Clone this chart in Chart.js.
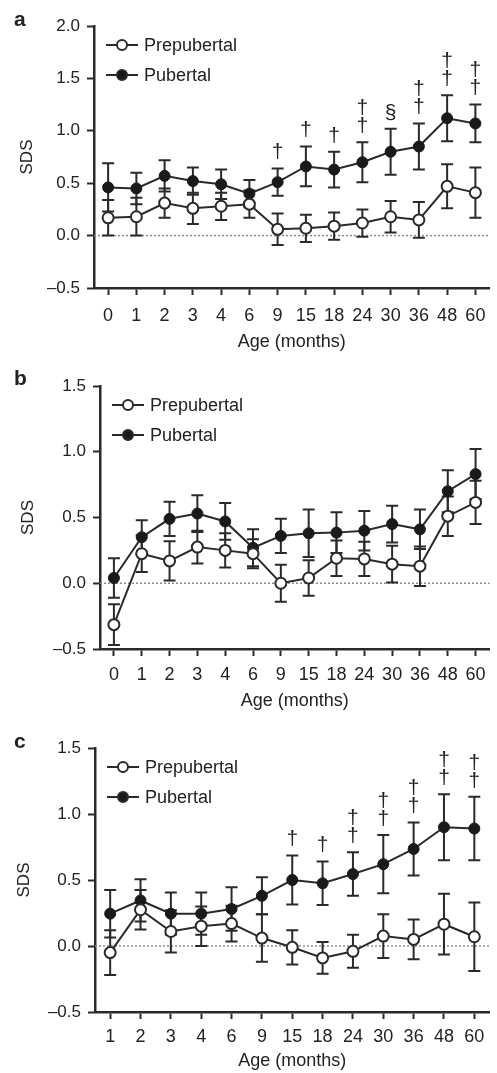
<!DOCTYPE html>
<html>
<head>
<meta charset="utf-8">
<script src="https://cdn.jsdelivr.net/npm/chart.js@4"></script>
<style>
  body { margin: 0; background: #fff; }
  .panel { position: relative; width: 497px; }
</style>
</head>
<body>
<div class="panel" style="height:355px"><canvas id="chartA"></canvas></div>
<div class="panel" style="height:360px"><canvas id="chartB"></canvas></div>
<div class="panel" style="height:358px"><canvas id="chartC"></canvas></div>
<script>
// ---- data (SDS mean and SE) ----
const agesAB = ['0', '1', '2', '3', '4', '6', '9', '15', '18', '24', '30', '36', '48', '60'];
const agesC = ['1', '2', '3', '4', '6', '9', '15', '18', '24', '30', '36', '48', '60'];

const prepA    = [0.17, 0.18, 0.31, 0.26, 0.28, 0.30, 0.06, 0.07, 0.09, 0.12, 0.18, 0.15, 0.47, 0.41];
const prepErrA = [0.17, 0.18, 0.14, 0.15, 0.13, 0.13, 0.15, 0.13, 0.13, 0.13, 0.15, 0.17, 0.21, 0.24];
const pubA     = [0.46, 0.45, 0.57, 0.52, 0.49, 0.40, 0.51, 0.66, 0.63, 0.70, 0.80, 0.85, 1.12, 1.07];
const pubErrA  = [0.23, 0.15, 0.15, 0.13, 0.14, 0.13, 0.13, 0.19, 0.17, 0.19, 0.22, 0.22, 0.22, 0.18];
const sigA     = ['', '', '', '', '', '', '†', '†', '†', '††', '§', '††', '††', '††'];

const prepB    = [-0.315, 0.225, 0.17, 0.275, 0.25, 0.225, 0.00, 0.04, 0.19, 0.185, 0.145, 0.13, 0.51, 0.615];
const prepErrB = [0.155, 0.14, 0.15, 0.125, 0.13, 0.11, 0.14, 0.135, 0.135, 0.13, 0.14, 0.15, 0.15, 0.165];
const pubB     = [0.04, 0.35, 0.49, 0.53, 0.47, 0.27, 0.36, 0.38, 0.385, 0.40, 0.45, 0.41, 0.70, 0.83];
const pubErrB  = [0.15, 0.13, 0.13, 0.14, 0.14, 0.14, 0.13, 0.18, 0.155, 0.15, 0.14, 0.15, 0.16, 0.19];
const sigB     = [];

const prepC    = [-0.05, 0.275, 0.11, 0.15, 0.17, 0.06, -0.01, -0.09, -0.04, 0.075, 0.05, 0.165, 0.07];
const prepErrC = [0.17, 0.15, 0.16, 0.15, 0.135, 0.18, 0.13, 0.12, 0.125, 0.165, 0.15, 0.23, 0.26];
const pubC     = [0.245, 0.345, 0.245, 0.245, 0.28, 0.38, 0.50, 0.475, 0.545, 0.62, 0.735, 0.90, 0.89];
const pubErrC  = [0.18, 0.16, 0.16, 0.16, 0.165, 0.14, 0.185, 0.165, 0.165, 0.22, 0.20, 0.25, 0.24];
const sigC     = ['', '', '', '', '', '', '†', '†', '††', '††', '††', '††', '††'];

const INK = '#222';
const FONT = '"Liberation Sans", Arial, Helvetica, sans-serif';
Chart.defaults.font.family = FONT;
Chart.defaults.color = INK;

// error bars + dotted zero line, under the lines/markers
const errorBars = {
    id: 'errorBars',
    beforeDatasetsDraw(chart) {
        const { ctx, chartArea, scales: { y } } = chart;
        ctx.save();
        const y0 = y.getPixelForValue(0);
        ctx.strokeStyle = '#8c8c8c';
        ctx.lineWidth = 1.5;
        ctx.setLineDash([2, 2]);
        ctx.beginPath();
        ctx.moveTo(chartArea.left, y0);
        ctx.lineTo(chartArea.right, y0);
        ctx.stroke();
        ctx.setLineDash([]);
        ctx.strokeStyle = '#2a2a2a';
        ctx.lineWidth = 2;
        chart.data.datasets.forEach((ds, di) => {
            const meta = chart.getDatasetMeta(di);
            ds.data.forEach((v, i) => {
                const e = ds.errors[i];
                const px = meta.data[i].x;
                const top = y.getPixelForValue(v + e), bot = y.getPixelForValue(v - e);
                ctx.beginPath();
                ctx.moveTo(px, top); ctx.lineTo(px, bot);
                ctx.moveTo(px - 6, top); ctx.lineTo(px + 6, top);
                ctx.moveTo(px - 6, bot); ctx.lineTo(px + 6, bot);
                ctx.stroke();
            });
        });
        ctx.restore();
    },
    // significance marks above the pubertal bars
    afterDatasetsDraw(chart, args, opts) {
        const sig = opts.sig || [];
        if (!sig.length) return;
        const { ctx, scales: { y } } = chart;
        const ds = chart.data.datasets[1], meta = chart.getDatasetMeta(1);
        ctx.save();
        ctx.fillStyle = INK;
        ctx.font = `21px ${FONT}`;
        ctx.textAlign = 'center';
        ctx.textBaseline = 'middle';
        sig.forEach((s, i) => {
            if (!s) return;
            const px = meta.data[i].x;
            const top = y.getPixelForValue(ds.data[i] + ds.errors[i]);
            [...s].forEach((ch, k) => ctx.fillText(ch, px, top - 16 - k * 18));
        });
        ctx.restore();
    },
    // legend (line-marker-line) and panel letter
    afterDraw(chart, args, opts) {
        const { ctx, chartArea } = chart;
        ctx.save();
        const lx = chartArea.left + 12;
        chart.data.datasets.forEach((ds, i) => {
            const ly = chartArea.top + 19 + i * 30;
            ctx.strokeStyle = '#2a2a2a';
            ctx.lineWidth = 2;
            ctx.beginPath(); ctx.moveTo(lx, ly); ctx.lineTo(lx + 32, ly); ctx.stroke();
            ctx.beginPath(); ctx.arc(lx + 16, ly, 5, 0, Math.PI * 2);
            ctx.fillStyle = ds.pointBackgroundColor; ctx.fill(); ctx.stroke();
            ctx.fillStyle = INK;
            ctx.font = `18px ${FONT}`;
            ctx.textBaseline = 'middle';
            ctx.fillText(ds.label, lx + 38, ly + 1);
        });
        ctx.font = `bold 21px ${FONT}`;
        ctx.textBaseline = 'alphabetic';
        ctx.fillText(opts.letter, 14, opts.letterY);
        ctx.restore();
    }
};

function buildPanel(id, p) {
    return new Chart(document.getElementById(id), {
        type: 'line',
        data: {
            labels: p.labels,
            datasets: [
                { label: 'Prepubertal', data: p.prep, errors: p.prepErr, borderColor: '#2a2a2a', borderWidth: 2,
                  pointRadius: 5.5, pointBorderWidth: 2, pointBackgroundColor: '#ffffff', pointBorderColor: '#2a2a2a' },
                { label: 'Pubertal', data: p.pub, errors: p.pubErr, borderColor: '#2a2a2a', borderWidth: 2,
                  pointRadius: 5.5, pointBorderWidth: 1, pointBackgroundColor: '#1a1a1a', pointBorderColor: '#1a1a1a' }
            ]
        },
        options: {
            responsive: true, maintainAspectRatio: false, animation: false,
            layout: { padding: { top: p.padTop, right: p.padRight, bottom: 0, left: 0 } },
            plugins: {
                legend: { display: false }, tooltip: { enabled: false },
                errorBars: { sig: p.sig, letter: p.letter, letterY: p.letterY }
            },
            scales: {
                x: {
                    type: 'category', offset: true,
                    grid: { drawOnChartArea: false, drawTicks: true, tickLength: 7, offset: false, tickColor: '#2a2a2a', tickWidth: 2 },
                    border: { color: '#2a2a2a', width: 2.5 },
                    ticks: { font: { size: 18 }, padding: p.xPad, maxRotation: 0, autoSkip: false },
                    title: { display: true, text: 'Age (months)', font: { size: 18 }, padding: { top: 0, bottom: p.titlePad } },
                    afterFit: s => { s.height = p.xHeight; }
                },
                y: {
                    min: -0.5, max: p.yMax,
                    grid: { drawOnChartArea: false, tickLength: 7, tickColor: '#2a2a2a', tickWidth: 2 },
                    border: { color: '#2a2a2a', width: 2.5 },
                    ticks: { stepSize: 0.5, font: { size: 17 }, padding: 7,
                             callback: v => v.toFixed(1).replace('-', '\u2013') },
                    title: { display: true, text: 'SDS', font: { size: 17 }, padding: { top: p.sdsPad, bottom: 0 } },
                    afterFit: s => { s.width = p.yWidth; }
                }
            }
        },
        plugins: [errorBars]
    });
}

buildPanel('chartA', { labels: agesAB, prep: prepA, prepErr: prepErrA, pub: pubA, pubErr: pubErrA, sig: sigA,
    yMax: 2.0, padTop: 26, padRight: 4, xHeight: 67, yWidth: 94, xPad: 10, titlePad: 2, sdsPad: 17, letter: 'a', letterY: 26 });
buildPanel('chartB', { labels: agesAB, prep: prepB, prepErr: prepErrB, pub: pubB, pubErr: pubErrB, sig: sigB,
    yMax: 1.5, padTop: 31, padRight: 0, xHeight: 66, yWidth: 100, xPad: 8, titlePad: 3, sdsPad: 18, letter: 'b', letterY: 30 });
buildPanel('chartC', { labels: agesC, prep: prepC, prepErr: prepErrC, pub: pubC, pubErr: pubErrC, sig: sigC,
    yMax: 1.5, padTop: 33, padRight: 3, xHeight: 61, yWidth: 95, xPad: 7, titlePad: 1, sdsPad: 14, letter: 'c', letterY: 33 });
</script>
</body>
</html>
